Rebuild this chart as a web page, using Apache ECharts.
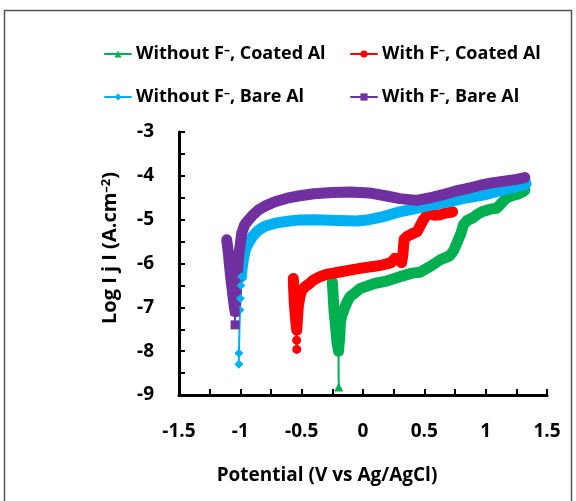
<!DOCTYPE html>
<html><head><meta charset="utf-8">
<script src="https://cdn.jsdelivr.net/npm/echarts@6/dist/echarts.min.js"></script>
<style>html,body{margin:0;padding:0;background:#fff}#c{width:576px;height:501px}</style>
</head><body><div id="c"></div>
<script>
// ---- data (potential V vs Ag/AgCl, log|j| A/cm2) ----
const seriesNames = ['Without F\u207B, Coated Al', 'With F\u207B, Coated Al', 'Without F\u207B, Bare Al', 'With F\u207B, Bare Al'];
const seriesColors = ['#00B050', '#FF0000', '#00B0F0', '#7030A0'];
const seriesSymbols = ['triangle', 'circle', 'diamond', 'rect'];

const xTickLabels = ['-1.5', '-1', '-0.5', '0', '0.5', '1', '1.5'];
const yTickLabels = ['-9', '-8', '-7', '-6', '-5', '-4', '-3'];

// Without F-, Coated Al (green)
const greenX = [-0.25, -0.243, -0.236, -0.228, -0.22, -0.212, -0.2, -0.19, -0.185, -0.175, -0.16, -0.147, -0.125, -0.106, -0.07, -0.024, 0.03, 0.1, 0.193, 0.302, 0.4, 0.465, 0.546, 0.628, 0.709, 0.74, 0.77, 0.8, 0.818, 0.85, 0.9, 0.927, 0.97, 1.036, 1.09, 1.13, 1.171, 1.22, 1.26, 1.307, 1.32];
const greenY = [-6.42, -6.75, -7.1, -7.3, -7.55, -7.8, -8.0, -7.7, -7.4, -7.2, -7.1, -6.99, -6.85, -6.76, -6.68, -6.57, -6.52, -6.45, -6.4, -6.3, -6.22, -6.2, -6.07, -5.92, -5.82, -5.7, -5.5, -5.3, -5.12, -5.02, -4.95, -4.89, -4.82, -4.76, -4.74, -4.62, -4.5, -4.45, -4.42, -4.36, -4.33];
const greenTipX = [-0.2, -0.198];
const greenTipY = [-7.95, -8.82];

// With F-, Coated Al (red)
const redX = [-0.568, -0.565, -0.56, -0.553, -0.545, -0.54, -0.535, -0.528, -0.52, -0.514, -0.5, -0.473, -0.432, -0.405, -0.35, -0.3, -0.2, -0.106, 0.0, 0.08, 0.165, 0.23, 0.26, 0.275, 0.295, 0.315, 0.325, 0.335, 0.36, 0.41, 0.44, 0.47, 0.492, 0.52, 0.546, 0.58, 0.628, 0.67, 0.7, 0.73];
const redY = [-6.34, -6.6, -6.9, -7.15, -7.4, -7.52, -7.3, -7.0, -6.85, -6.75, -6.62, -6.53, -6.45, -6.38, -6.3, -6.25, -6.2, -6.15, -6.1, -6.07, -6.03, -5.98, -5.88, -5.84, -5.92, -5.98, -5.8, -5.45, -5.38, -5.31, -5.28, -5.12, -5.0, -4.9, -4.86, -4.9, -4.89, -4.85, -4.84, -4.82];
const redTipX = [-0.541, -0.541, -0.54];
const redTipY = [-7.5, -7.75, -7.96];

// Without F-, Bare Al (cyan)
const cyanX = [-0.99, -0.985, -0.976, -0.96, -0.935, -0.9, -0.853, -0.8, -0.717, -0.6, -0.527, -0.4, -0.2, -0.05, 0.05, 0.165, 0.3, 0.438, 0.55, 0.709, 0.85, 0.98, 1.1, 1.2, 1.307, 1.33];
const cyanY = [-6.3, -6.1, -5.92, -5.7, -5.54, -5.38, -5.24, -5.15, -5.08, -5.03, -5.01, -5.0, -5.02, -5.03, -5.0, -4.93, -4.82, -4.74, -4.67, -4.59, -4.5, -4.44, -4.35, -4.28, -4.21, -4.18];
const cyanTipX = [-0.99, -0.995, -1.0, -1.003, -1.012, -1.012];
const cyanTipY = [-6.3, -6.5, -6.8, -7.06, -8.05, -8.3];

// With F-, Bare Al (purple)
const purpleX = [-1.111, -1.1, -1.09, -1.075, -1.06, -1.048, -1.043, -1.035, -1.028, -1.02, -1.01, -0.995, -0.989, -0.965, -0.935, -0.9, -0.853, -0.8, -0.717, -0.62, -0.527, -0.4, -0.25, -0.1, 0.05, 0.193, 0.3, 0.438, 0.55, 0.65, 0.75, 0.845, 0.95, 1.05, 1.15, 1.25, 1.32];
const purpleY = [-5.46, -5.7, -6.0, -6.4, -6.75, -7.0, -7.1, -6.8, -6.4, -6.05, -5.75, -5.45, -5.31, -5.12, -5.01, -4.9, -4.78, -4.69, -4.59, -4.51, -4.46, -4.41, -4.38, -4.37, -4.39, -4.46, -4.52, -4.56, -4.5, -4.43, -4.35, -4.29, -4.22, -4.16, -4.12, -4.08, -4.04];
const purpleTipX = [-1.043, -1.043];
const purpleTipY = [-7.1, -7.4];

// ---- chart ----
const FONT = '"Open Sans", "Liberation Sans", sans-serif';
function pts(xs, ys) { return xs.map((x, i) => [x, ys[i]]); }
const bodies = [[greenX, greenY], [redX, redY], [cyanX, cyanY], [purpleX, purpleY]];
const tips = [[greenTipX, greenTipY], [redTipX, redTipY], [cyanTipX, cyanTipY], [purpleTipX, purpleTipY]];

const series = [];
for (let i = 0; i < 4; i++) {
  series.push({
    type: 'line', name: seriesNames[i], data: pts(bodies[i][0], bodies[i][1]),
    symbol: seriesSymbols[i], symbolSize: 8, showSymbol: false,
    lineStyle: { width: 11, color: seriesColors[i], join: 'round', cap: 'round' },
    itemStyle: { color: seriesColors[i] }, animation: false, silent: true
  });
  series.push({
    type: 'line', name: seriesNames[i], data: pts(tips[i][0], tips[i][1]),
    symbol: seriesSymbols[i], symbolSize: 9, showSymbol: true,
    lineStyle: { width: 2, color: seriesColors[i] },
    itemStyle: { color: seriesColors[i] }, animation: false, silent: true
  });
}

const supRich = { s: { fontFamily: FONT, fontSize: 12, fontWeight: 'bold', color: '#000', verticalAlign: 'top', lineHeight: 12 } };
function legendFmt(n) { return n.replace('\u207B', '{s|\u2013}'); }
const legendCommon = {
  orient: 'vertical', itemWidth: 26, itemHeight: 9, itemGap: 25,
  lineStyle: { width: 2 },
  textStyle: { fontFamily: FONT, fontSize: 18, fontWeight: 'bold', color: '#000', rich: supRich },
  formatter: legendFmt, selectedMode: false
};

const chart = echarts.init(document.getElementById('c'), null, { renderer: 'canvas' });
chart.setOption({
  backgroundColor: '#fff',
  animation: false,
  grid: { left: 179, right: 29, top: 132, bottom: 106, containLabel: false },
  legend: [
    Object.assign({}, legendCommon, { data: [seriesNames[0], seriesNames[2]], left: 99, top: 40 }),
    Object.assign({}, legendCommon, { data: [seriesNames[1], seriesNames[3]], left: 345, top: 40 })
  ],
  xAxis: {
    type: 'value', min: -1.5, max: 1.5, interval: 0.5,
    axisLine: { show: true, onZero: false, lineStyle: { color: '#000', width: 3 } },
    axisTick: { show: true, inside: true, length: 6, lineStyle: { color: '#000', width: 2 } },
    minorTick: { show: true, splitNumber: 2, length: 6, lineStyle: { color: '#000', width: 2 } },
    splitLine: { show: false },
    axisLabel: { margin: 27, fontFamily: FONT, fontSize: 19, fontWeight: 'bold', color: '#000',
      formatter: v => xTickLabels[Math.round((v + 1.5) / 0.5)] }
  },
  yAxis: {
    type: 'value', min: -9, max: -3, interval: 1,
    axisLine: { show: true, onZero: false, lineStyle: { color: '#000', width: 3 } },
    axisTick: { show: true, inside: true, length: 6, lineStyle: { color: '#000', width: 2 } },
    minorTick: { show: true, splitNumber: 2, length: 6, lineStyle: { color: '#000', width: 2 } },
    splitLine: { show: false },
    axisLabel: { margin: 25, fontFamily: FONT, fontSize: 19, fontWeight: 'bold', color: '#000',
      formatter: v => yTickLabels[Math.round(v + 9)] }
  },
  graphic: [
    { type: 'rect', silent: true, z: -10, shape: { x: 4.5, y: 10.5, width: 567, height: 520 },
      style: { fill: null, stroke: '#555', lineWidth: 1.5 } },
    { type: 'text', silent: true, x: 327, y: 476,
      style: { text: 'Potential (V vs Ag/AgCl)', font: 'bold 19px ' + FONT, fill: '#000', textAlign: 'center', textVerticalAlign: 'middle' } },
    { type: 'text', silent: true, x: 110, y: 248, rotation: Math.PI / 2,
      style: { text: 'Log I j I (A.cm{s|\u20132})', font: 'bold 20px ' + FONT, fill: '#000', textAlign: 'center', textVerticalAlign: 'middle',
        rich: { s: { fontFamily: FONT, fontSize: 13, fontWeight: 'bold', color: '#000', verticalAlign: 'top', lineHeight: 13 } } } }
  ],
  series: series
});
</script>
</body></html>
